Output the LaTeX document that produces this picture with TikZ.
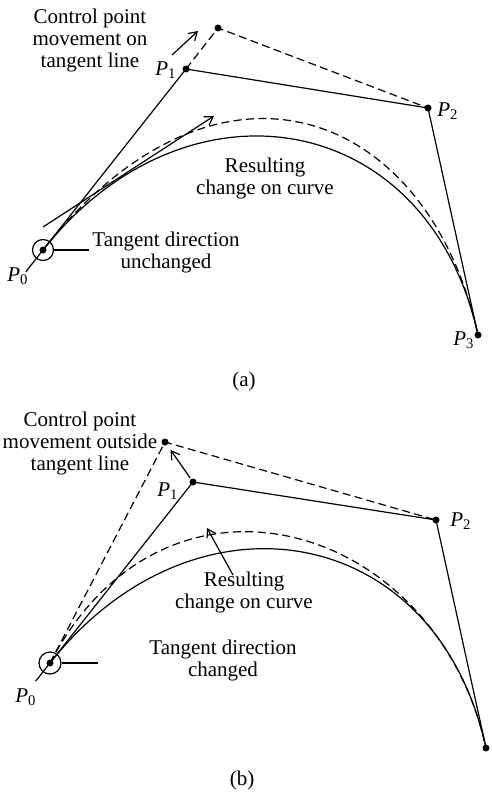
\documentclass[tikz,border=0pt]{standalone}
\usepackage{fontspec}
\setmainfont{Liberation Serif}
\usetikzlibrary{arrows.meta,calc}
\newcommand{\ctrlpt}[1]{\textit{P}\textsubscript{#1}}
\tikzset{
	lbl/.style={align=center,inner sep=0pt,font=\fontsize{10.5}{11}\selectfont},
	dashline/.style={dash pattern=on 4pt off 2.2pt},
	ring/.style={circle,draw,inner sep=0pt,minimum size=10.5pt},
	arr/.style={-{Straight Barb[length=4pt,width=5pt]}}
}
\begin{document}
\begin{tikzpicture}[x=0.5pt,y=-0.5pt,line width=0.6pt]
		\useasboundingbox (0,0) rectangle (492,792);
		% (a): control point moved along the tangent line
		\coordinate (P0a) at (43,250);
		\coordinate (P1a) at (186,69);
		\coordinate (P1pa) at (218,28);
		\coordinate (P2a) at (428,108);
		\coordinate (P3a) at (478,335);
		\coordinate (extA) at ($(P0a)!-0.12!(P1a)$);
		\coordinate (movA1) at (172,55);
		\coordinate (movA2) at (198,31);
		\coordinate (tanA1) at (43,227);
		\coordinate (tanA2) at (214,116);
		\draw (P0a) .. controls (P1a) and (P2a) .. (P3a);
		\draw[dashline] (P0a) .. controls (P1pa) and (P2a) .. (P3a);
		\draw (extA) -- (P0a) -- (P1a) -- (P2a) -- (P3a);
		\draw[dashline] (P1a) -- (P1pa) -- (P2a);
		\draw[arr] (movA1) -- (movA2);
		\draw[arr] (tanA1) -- (tanA2);
		\node[ring] (ringA) at (P0a) {};
		\draw (ringA.east) -- ++(35,0);
		\foreach \p in {P0a,P1a,P1pa,P2a,P3a} \fill (\p) circle (1.75pt);
		\node[lbl] (ctrlA) at (90,40) {Control point\\movement on\\tangent line};
		\node[lbl] (resA) at (265,178) {Resulting\\change on curve};
		\node[lbl] (tanA) at (166,252) {Tangent direction\\unchanged};
		\node[lbl] (labP0a) at (18,276) {\ctrlpt{0}};
		\node[lbl] (labP1a) at (166,70) {\ctrlpt{1}};
		\node[lbl] (labP2a) at (448,111) {\ctrlpt{2}};
		\node[lbl] (labP3a) at (464,340) {\ctrlpt{3}};
		\node[lbl] (capA) at (244,381) {(a)};
		% (b): control point moved off the tangent line
		\coordinate (P0b) at (50,663);
		\coordinate (P1b) at (193,482);
		\coordinate (P1pb) at (165,442);
		\coordinate (P2b) at (436,520);
		\coordinate (P3b) at (486,748);
		\coordinate (extB) at ($(P0b)!-0.1!(P1b)$);
		\coordinate (resB1) at (233,575);
		\coordinate (resB2) at (207,528);
		\draw (P0b) .. controls (P1b) and (P2b) .. (P3b);
		\draw[dashline] (P0b) .. controls (P1pb) and (P2b) .. (P3b);
		\draw (extB) -- (P0b) -- (P1b) -- (P2b) -- (P3b);
		\draw[dashline] (P0b) -- (P1pb) -- (P2b);
		\draw[arr] ($(P1b)!0.1!(P1pb)$) -- ($(P1b)!0.8!(P1pb)$);
		\draw[arr] (resB1) -- (resB2);
		\node[ring,minimum size=11pt] (ringB) at (P0b) {};
		\draw (ringB.east) -- ++(36,0);
		\foreach \p in {P0b,P1b,P1pb,P2b,P3b} \fill (\p) circle (1.75pt);
		\node[lbl] (ctrlB) at (80,443) {Control point\\movement outside\\tangent line};
		\node[lbl] (resB) at (244,592) {Resulting\\change on curve};
		\node[lbl] (tanB) at (223,660) {Tangent direction\\changed};
		\node[lbl] (labP0b) at (26,697) {\ctrlpt{0}};
		\node[lbl] (labP1b) at (168,491) {\ctrlpt{1}};
		\node[lbl] (labP2b) at (461,521) {\ctrlpt{2}};
		\node[lbl] (capB) at (242,780) {(b)};
	\end{tikzpicture}
\end{document}
